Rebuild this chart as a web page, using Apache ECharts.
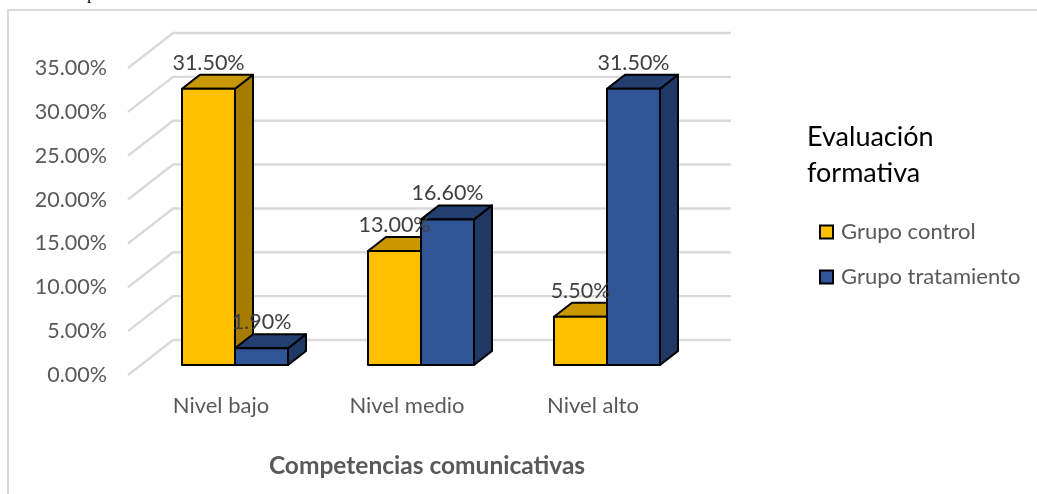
<!DOCTYPE html>
<html><head><meta charset="utf-8">
<style>html,body{margin:0;padding:0;background:#fff;overflow:hidden}#c{width:1037px;height:494px}</style>
<script src="https://cdn.jsdelivr.net/npm/echarts@6/dist/echarts.min.js"></script>
</head><body><div id="c"></div>
<script>
const categories = ['Nivel bajo', 'Nivel medio', 'Nivel alto'];
const grupoControl = [31.5, 13.0, 5.5];
const grupoTratamiento = [1.9, 16.6, 31.5];
const yTicks = [0, 5, 10, 15, 20, 25, 30, 35];
const FONT = 'Lato, "Noto Sans", sans-serif';

const DEPTH_X = 18, DEPTH_Y = 14, FLOOR_LIFT = 10, BAR_RATIO = 53 / 186;

function cuboid(shift, colors) {
  return function (params, api) {
    const idx = api.value(0), val = api.value(1);
    const band = api.size([1, 0])[0];
    const w = band * BAR_RATIO;
    const c = api.coord([idx, val]);
    const b = api.coord([idx, 0]);
    const x0 = c[0] + 14 - w + shift * w;
    const x1 = x0 + w;
    const yt = c[1] - FLOOR_LIFT, yb = b[1] - FLOOR_LIFT;
    const stroke = { stroke: '#000', lineWidth: 2, lineJoin: 'round' };
    return {
      type: 'group',
      children: [
        { type: 'polygon', shape: { points: [[x1, yt], [x1 + DEPTH_X, yt - DEPTH_Y], [x1 + DEPTH_X, yb - DEPTH_Y], [x1, yb]] }, style: { fill: colors.side, ...stroke } },
        { type: 'polygon', shape: { points: [[x0, yt], [x0 + DEPTH_X, yt - DEPTH_Y], [x1 + DEPTH_X, yt - DEPTH_Y], [x1, yt]] }, style: { fill: colors.top, ...stroke } },
        { type: 'rect', shape: { x: x0, y: yt, width: w, height: yb - yt }, style: { fill: colors.front, ...stroke } },
        { type: 'text', z2: 100, style: { text: val.toFixed(2) + '%', x: (x0 + x1) / 2, y: yt - 26, align: 'center', verticalAlign: 'middle', fill: '#404040', font: '21.5px ' + FONT } }
      ]
    };
  };
}

function wall(params, api) {
  const y = api.coord([0, api.value(1)])[1];
  const r = params.coordSys;
  return {
    type: 'polyline',
    shape: { points: [[r.x, y], [r.x + 45, y - 35], [r.x + r.width + 45, y - 35]] },
    style: { fill: null, stroke: '#d9d9d9', lineWidth: 2.4 }
  };
}

const chart = echarts.init(document.getElementById('c'), null, { renderer: 'canvas' });
chart.setOption({
  animation: false,
  backgroundColor: '#fff',
  graphic: [
    { type: 'rect', silent: true, z: -1, shape: { x: 8, y: 10, width: 1200, height: 700 }, style: { fill: null, stroke: '#d9d9d9', lineWidth: 2 } },
    { type: 'text', silent: true, x: 87, y: -15, style: { text: 'p', fill: '#000', font: '18px "Liberation Serif", serif' } }
  ],
  title: {
    text: 'Evaluación\nformativa', left: 802, top: 114,
    textStyle: { color: '#000', fontFamily: FONT, fontSize: 27, fontWeight: 'normal', lineHeight: 36 }
  },
  legend: {
    orient: 'vertical', left: 814, top: 216, icon: 'rect', itemWidth: 13, itemHeight: 13, itemGap: 23,
    textStyle: { color: '#595959', fontFamily: FONT, fontSize: 22, padding: [0, 0, 0, 3] },
    data: ['Grupo control', 'Grupo tratamiento']
  },
  grid: { left: 128, right: 351, top: 68, bottom: 119 },
  xAxis: {
    type: 'category', data: categories,
    axisLine: { show: false }, axisTick: { show: false }, splitLine: { show: false },
    axisLabel: { color: '#595959', fontFamily: FONT, fontSize: 22, margin: 20 },
    name: 'Competencias comunicativas', nameLocation: 'middle', nameGap: 79,
    nameTextStyle: { color: '#595959', fontFamily: FONT, fontSize: 24.5, fontWeight: 'bold', padding: [0, 0, 0, 40] }
  },
  yAxis: {
    type: 'value', min: 0, max: 35, interval: 5,
    axisLine: { show: false }, axisTick: { show: false }, splitLine: { show: false },
    axisLabel: { color: '#595959', fontFamily: FONT, fontSize: 21.5, margin: 21, formatter: v => v.toFixed(2) + '%' }
  },
  series: [
    { type: 'custom', name: 'pared', silent: true, clip: false, renderItem: wall, encode: { x: 0, y: 1 }, data: yTicks.map(t => [0, t]) },
    { type: 'custom', name: 'Grupo control', clip: false, renderItem: cuboid(0, { front: '#FFC000', top: '#C99700', side: '#A67C00' }),
      encode: { x: 0, y: 1 }, itemStyle: { color: '#FFC000', borderColor: '#000', borderWidth: 2 }, data: grupoControl.map((v, i) => [i, v]) },
    { type: 'custom', name: 'Grupo tratamiento', clip: false, renderItem: cuboid(1, { front: '#2F5597', top: '#233F70', side: '#1F3864' }),
      encode: { x: 0, y: 1 }, itemStyle: { color: '#2F5597', borderColor: '#000', borderWidth: 2 }, data: grupoTratamiento.map((v, i) => [i, v]) }
  ]
});
</script></body></html>
